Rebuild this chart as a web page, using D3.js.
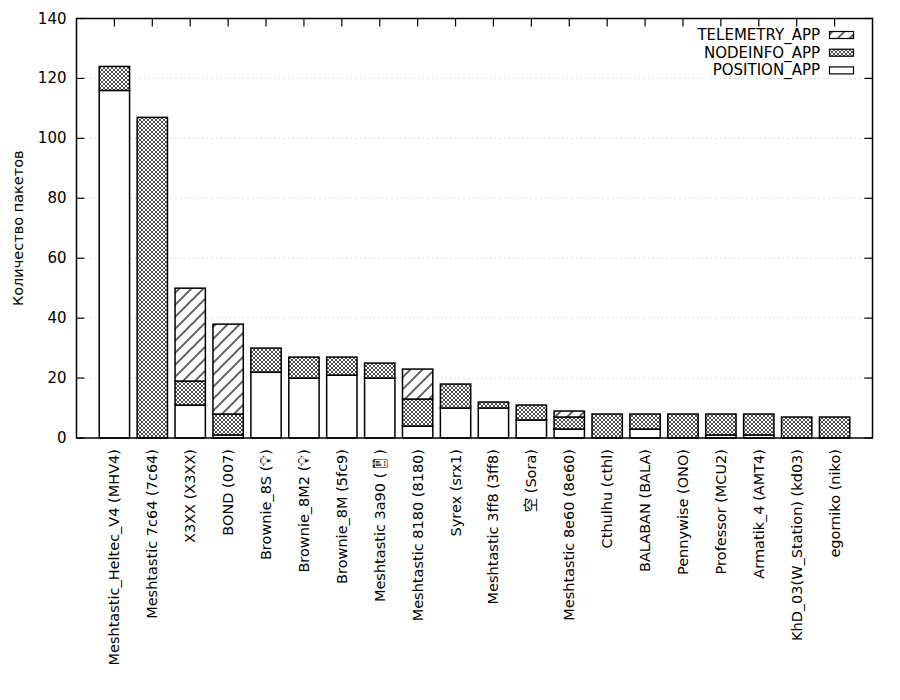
<!DOCTYPE html>
<html>
<head>
<meta charset="utf-8">
<script src="https://cdn.jsdelivr.net/npm/d3@7"></script>
<style>
  html, body { margin: 0; padding: 0; background: #fff; }
  svg { display: block; font-family: "DejaVu Sans", "Noto Sans CJK SC", sans-serif; }
</style>
</head>
<body>
<svg id="chart" width="900" height="700"></svg>
<script>
const categories = [
  "Meshtastic_Heltec_V4 (MHV4)", "Meshtastic 7c64 (7c64)", "X3XX (X3XX)", "BOND (007)",
  "Brownie_8S (💡\uFE0E)", "Brownie_8M2 (💡\uFE0E)", "Brownie_8M (5fc9)", "Meshtastic 3a90 (📱\uFE0E)",
  "Meshtastic 8180 (8180)", "Syrex (srx1)", "Meshtastic 3ff8 (3ff8)", "空 (Sora)",
  "Meshtastic 8e60 (8e60)", "Cthulhu (cthl)", "BALABAN (BALA)", "Pennywise (ONO)",
  "Professor (MCU2)", "Armatik_4 (AMT4)", "KhD_03(W_Station) (kd03)", "egorniko (niko)"
];
const positionApp  = [116, 0, 11, 1, 22, 20, 21, 20, 4, 10, 10, 6, 3, 0, 3, 0, 1, 1, 0, 0];
const nodeinfoApp  = [8, 107, 8, 7, 8, 7, 6, 5, 9, 8, 2, 5, 4, 8, 5, 8, 7, 7, 7, 7];
const telemetryApp = [0, 0, 31, 30, 0, 0, 0, 0, 10, 0, 0, 0, 2, 0, 0, 0, 0, 0, 0, 0];
const seriesNames = ["POSITION_APP", "NODEINFO_APP", "TELEMETRY_APP"];
const yTicks = [0, 20, 40, 60, 80, 100, 120, 140];
const yLabel = "Количество пакетов";

const rows = categories.map((c, i) => ({
  idx: i, name: c,
  POSITION_APP: positionApp[i], NODEINFO_APP: nodeinfoApp[i], TELEMETRY_APP: telemetryApp[i]
}));

const svg = d3.select("#chart");
const L = 76.5, R = 872.5, T = 18.5, B = 438;
const x = d3.scaleLinear().domain([-1, 20]).range([L, R]);
const y = d3.scaleLinear().domain([0, 140]).range([B, T]);
const barW = x(0.8) - x(0);

// patterns
const defs = svg.append("defs");
const ph = defs.append("pattern").attr("id", "pat-node").attr("patternUnits", "userSpaceOnUse")
  .attr("width", 4).attr("height", 4);
ph.append("rect").attr("width", 4).attr("height", 4).attr("fill", "#fff");
ph.append("path").attr("d", "M0,0L4,4M0,4L4,0").attr("stroke", "#222").attr("stroke-width", 0.8);

const pd = defs.append("pattern").attr("id", "pat-tel").attr("patternUnits", "userSpaceOnUse")
  .attr("width", 12).attr("height", 12);
pd.append("rect").attr("width", 12).attr("height", 12).attr("fill", "#fff");
pd.append("path").attr("d", "M0,12L12,0M-3,3L3,-3M9,15L15,9")
  .attr("stroke", "#5a5a5a").attr("stroke-width", 1.9);

const fills = { POSITION_APP: "#fff", NODEINFO_APP: "url(#pat-node)", TELEMETRY_APP: "url(#pat-tel)" };

// grid
svg.append("g").selectAll("line").data(yTicks.filter(t => t > 0 && t < 140)).join("line")
  .attr("x1", L).attr("x2", R).attr("y1", d => y(d)).attr("y2", d => y(d))
  .attr("stroke", "#c8c8c8").attr("stroke-width", 1).attr("stroke-dasharray", "1,3.5");

// bars
const stacked = d3.stack().keys(seriesNames)(rows);
const gBars = svg.append("g");
stacked.forEach(layer => {
  gBars.append("g").selectAll("rect")
    .data(layer.filter(d => d[1] - d[0] > 0))
    .join("rect")
    .attr("x", d => x(d.data.idx) - barW / 2)
    .attr("width", barW)
    .attr("y", d => y(d[1]))
    .attr("height", d => y(d[0]) - y(d[1]))
    .attr("fill", fills[layer.key])
    .attr("stroke", "#000").attr("stroke-width", 1.5);
});

// frame
svg.append("rect").attr("x", L).attr("y", T).attr("width", R - L).attr("height", B - T)
  .attr("fill", "none").attr("stroke", "#000").attr("stroke-width", 1.5);

// y ticks (left & right)
const tl = 8;
const gy = svg.append("g");
yTicks.forEach(t => {
  gy.append("line").attr("x1", L).attr("x2", L + tl).attr("y1", y(t)).attr("y2", y(t))
    .attr("stroke", "#000").attr("stroke-width", 1.2);
  gy.append("line").attr("x1", R).attr("x2", R - tl).attr("y1", y(t)).attr("y2", y(t))
    .attr("stroke", "#000").attr("stroke-width", 1.2);
  gy.append("text").attr("x", L - 10).attr("y", y(t)).attr("text-anchor", "end")
    .attr("dominant-baseline", "central").attr("font-size", 15).text(t);
});

// top ticks
svg.append("g").selectAll("line").data(rows).join("line")
  .attr("x1", d => x(d.idx)).attr("x2", d => x(d.idx)).attr("y1", T).attr("y2", T + tl)
  .attr("stroke", "#000").attr("stroke-width", 1.2);

// x labels
svg.append("g").selectAll("text").data(rows).join("text")
  .attr("transform", d => `translate(${x(d.idx)},${B + 11}) rotate(-90)`)
  .attr("text-anchor", "end").attr("dominant-baseline", "central")
  .attr("font-size", 14.5).text(d => d.name);

// y label
svg.append("text").attr("transform", `translate(18,${(T + B) / 2}) rotate(-90)`)
  .attr("text-anchor", "middle").attr("dominant-baseline", "central")
  .attr("font-size", 14.5).text(yLabel);

// legend
const legendItems = ["TELEMETRY_APP", "NODEINFO_APP", "POSITION_APP"];
const gl = svg.append("g");
legendItems.forEach((k, i) => {
  const cy = 35 + i * 17.7;
  gl.append("text").attr("x", 820).attr("y", cy).attr("text-anchor", "end")
    .attr("dominant-baseline", "central").attr("font-size", 15).text(k);
  gl.append("rect").attr("x", 829.5).attr("y", cy - 3.5).attr("width", 24).attr("height", 7)
    .attr("fill", fills[k]).attr("stroke", "#000").attr("stroke-width", 1.2);
});
</script>
</body>
</html>
